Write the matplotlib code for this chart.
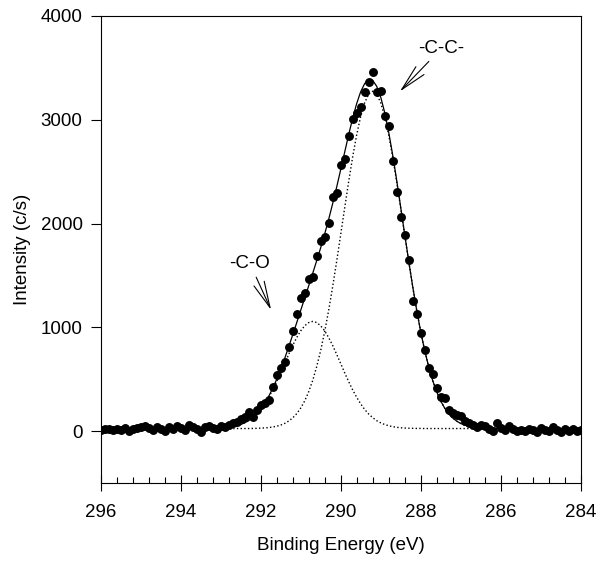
import numpy as np
import matplotlib
matplotlib.use("Agg")
import matplotlib.pyplot as plt
from matplotlib.ticker import MultipleLocator

plt.rcParams['font.family'] = ['Liberation Sans', 'DejaVu Sans']

# binding energy grid, 296.0 -> 284.0 eV in 0.1 eV steps
energy = np.round(np.arange(296.0, 283.95, -0.1), 1)

# measured intensity (c/s)
counts = [
    15, 22, 18, 8, 25, 12, 30, 5, 20, 28,
    38, 45, 30, 12, 40, 18, 2, 35, 20, 48,
    30, 15, 55, 42, 25, -8, 38, 45, 30, 22,
    50, 38, 62, 75, 92, 118, 140, 185, 140, 205,
    251, 267, 300, 430, 540, 604, 668, 813, 967, 1128,
    1279, 1327, 1465, 1487, 1690, 1834, 1867, 2008, 2258, 2297,
    2567, 2622, 2843, 3005, 3070, 3120, 3270, 3365, 3460, 3270,
    3280, 3040, 2940, 2605, 2300, 2065, 1890, 1645, 1250, 1130,
    950, 785, 605, 550, 420, 330, 315, 205, 175, 160,
    150, 95, 80, 60, 40, 55, 45, 20, 5, 75,
    30, 10, 45, 20, 0, 15, 5, 25, 10, -5,
    30, 15, 5, 35, 10, -5, 20, 0, 25, 5,
    15,
]

# -C-C- component (incl. background)
cc_peak = [25] * 38 + [
    26, 27, 29, 31, 34, 40, 47, 58, 74, 97,
    127, 168, 222, 291, 379, 488, 621, 777, 959, 1165,
    1393, 1637, 1893, 2151, 2405, 2643, 2855, 3032, 3165, 3247,
    3275,
    3247, 3165, 3032, 2855, 2643, 2405, 2151, 1893, 1637, 1393,
    1165, 959, 777, 621, 488, 379, 291, 222, 168, 127,
    97, 74, 58, 47, 40, 34, 31, 29, 27, 26,
] + [25] * 22

# -C-O component (incl. background)
co_peak = [25] * 28 + [
    27, 28, 30, 32, 37, 43, 52, 64, 80, 101,
    130, 165, 209, 263, 326, 397, 477, 562, 651, 740,
    825, 901, 966, 1015, 1046, 1057,
    1046, 1015, 966, 901, 825, 740, 651, 562, 477, 397,
    326, 263, 209, 165, 130, 101, 80, 64, 52, 43,
    37, 32, 30, 28, 27, 26, 26,
] + [25] * 40

background = 25
envelope = np.array(cc_peak) + np.array(co_peak) - background

fig = plt.figure(figsize=(5.98, 5.61), dpi=100)
ax = fig.add_axes([0.1684, 0.139, 0.8026, 0.8325])

ax.plot(energy, cc_peak, color='black', linestyle=':', linewidth=1.0)
ax.plot(energy, co_peak, color='black', linestyle=':', linewidth=1.0)
ax.plot(energy, envelope, color='black', linewidth=0.9)
ax.plot(energy, counts, 'o', color='black', markersize=5.4)

ax.set_xlim(296, 284)
ax.set_ylim(-500, 4000)
ax.xaxis.set_major_locator(MultipleLocator(2))
ax.xaxis.set_minor_locator(MultipleLocator(0.4))
ax.yaxis.set_major_locator(MultipleLocator(1000))

ax.tick_params(axis='x', which='major', direction='inout', length=11.5,
               width=0.8, pad=9, labelsize=13.5, top=False)
ax.tick_params(axis='x', which='minor', direction='in', length=4,
               width=0.8, top=False)
ax.tick_params(axis='y', which='major', direction='out', length=7,
               width=0.8, pad=6, labelsize=13.5, right=False)

for sp in ax.spines.values():
    sp.set_linewidth(0.8)

ax.set_xlabel('Binding Energy (eV)', fontsize=13.5, labelpad=12)
ax.set_ylabel('Intensity (c/s)', fontsize=13.5, labelpad=7)

arrow = dict(arrowstyle='->, head_length=1.4, head_width=0.3',
             color='black', linewidth=0.8, shrinkA=2, shrinkB=0)
ax.annotate('-C-C-', xy=(288.52, 3273), xytext=(287.475, 3690),
            ha='center', va='center', fontsize=13.5, arrowprops=arrow)
ax.annotate('-C-O', xy=(291.74, 1168), xytext=(292.27, 1616),
            ha='center', va='center', fontsize=13.5, arrowprops=arrow)

fig.savefig('out.png', dpi=100)
